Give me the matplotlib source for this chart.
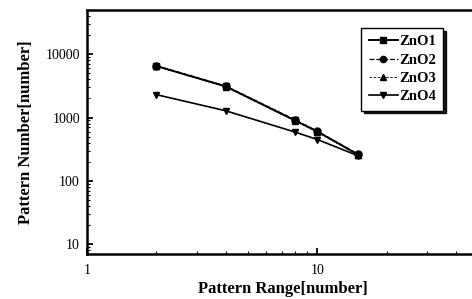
import matplotlib
matplotlib.use('Agg')
import matplotlib.pyplot as plt
from matplotlib.ticker import FixedLocator, FixedFormatter, LogLocator, NullFormatter

plt.rcParams['font.family'] = ['Liberation Serif', 'DejaVu Serif']

# data
pattern_range = [2, 4, 8, 10, 15]
zno1 = [6500, 3100, 900, 600, 260]
zno2 = [6600, 3150, 920, 610, 265]
zno3 = [6450, 3050, 880, 590, 255]
zno4 = [2300, 1280, 590, 450, 250]

series = [
    ('ZnO1', zno1, '-', 's', 1.4),
    ('ZnO2', zno2, (0, (4, 1.5)), 'o', 0.9),
    ('ZnO3', zno3, (0, (3, 2)), '^', 0.6),
    ('ZnO4', zno4, '-', 'v', 1.2),
]

fig = plt.figure(figsize=(4.72, 2.99), dpi=100)
ax = fig.add_axes([0.184, 0.150, 0.83, 0.817])

for name, vals, ls, mk, lw in series:
    ax.plot(pattern_range, vals, linestyle=ls, marker=mk, color='black',
            lw=lw, markersize=5, label=name)

ax.set_xscale('log')
ax.set_yscale('log')
ax.set_xlim(1, 50)
ax.set_ylim(7, 50000)

ax.xaxis.set_major_locator(FixedLocator([1, 10]))
ax.xaxis.set_major_formatter(FixedFormatter(['1', '10']))
ax.yaxis.set_major_locator(FixedLocator([10, 100, 1000, 10000]))
ax.yaxis.set_major_formatter(FixedFormatter(['10', '100', '1000', '10000']))
ax.xaxis.set_minor_locator(LogLocator(subs=range(2, 10)))
ax.yaxis.set_minor_locator(LogLocator(subs=range(2, 10)))
ax.xaxis.set_minor_formatter(NullFormatter())
ax.yaxis.set_minor_formatter(NullFormatter())

ax.tick_params(which='both', direction='in', labelsize=10, pad=5)
ax.tick_params(axis='x', which='both', pad=7)
ax.tick_params(which='major', length=4, width=1.3)
ax.tick_params(which='minor', length=2, width=0.8)
ax.tick_params(top=False, right=False, which='both')
for s in ax.spines.values():
    s.set_linewidth(1.8)

ax.set_xlabel('Pattern Range[number]', fontsize=12, fontweight='bold', labelpad=3)
ax.set_ylabel('Pattern Number[number]', fontsize=12, fontweight='bold', labelpad=8)

leg = ax.legend(loc='upper right', bbox_to_anchor=(0.91, 0.926), fontsize=10.5,
                frameon=True, fancybox=False, shadow={'color': 'black', 'alpha': 0.9},
                handlelength=2.0, borderpad=0.5, labelspacing=0.35,
                handletextpad=0.1, borderaxespad=0, markerscale=0.9)
leg.get_frame().set_edgecolor('black')
leg.get_frame().set_linewidth(1.0)
for t in leg.get_texts():
    t.set_fontweight('bold')

fig.savefig('out.png', dpi=100)
